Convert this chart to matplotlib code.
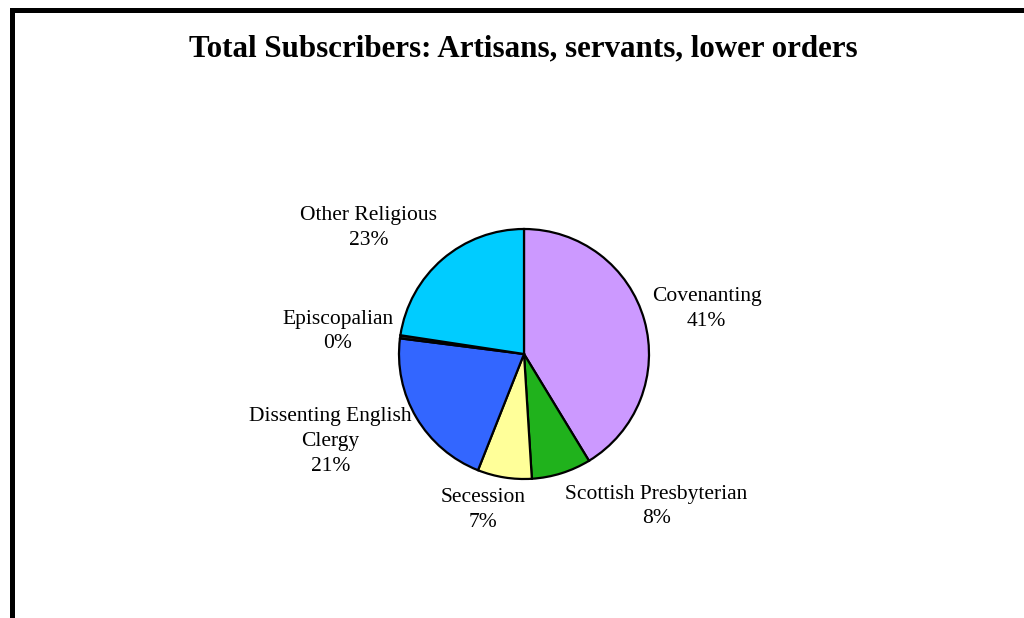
import numpy as np
import matplotlib
matplotlib.use('Agg')
import matplotlib.pyplot as plt
from matplotlib.patches import Rectangle

# share of subscribers per denomination (percent)
groups = ['Covenanting', 'Scottish Presbyterian', 'Secession',
          'Dissenting English\nClergy', 'Episcopalian', 'Other Religious']
shares = [41.3, 7.7, 7.0, 21.0, 0.4, 22.6]
colors = ['#CC99FF', '#20B21C', '#FFFF99', '#3366FF', '#222222', '#00CCFF']

# label centres, in pie radii from the pie centre
label_pos = [(1.46, 0.36), (1.06, -1.22), (-0.33, -1.25),
             (-1.55, -0.70), (-1.49, 0.18), (-1.24, 1.01)]

plt.rcParams['font.family'] = ['Liberation Serif', 'DejaVu Serif']

W, H = 1024, 618
fig = plt.figure(figsize=(W / 100, H / 100), dpi=100)
fig.patch.set_facecolor('white')

# frame along the top and left edges
fig.patches.append(Rectangle((11.5 / W, -0.2), 1.5, 1.2 - 9.5 / H,
                             transform=fig.transFigure, fill=False,
                             edgecolor='black', linewidth=3.6))

fig.text(523 / W, 1 - 49 / H, 'Total Subscribers: Artisans, servants, lower orders',
         ha='center', va='center', fontsize=22.3, fontweight='bold')

cx, cy, r = 524, 354, 125
ax = fig.add_axes([(cx - r) / W, (H - cy - r) / H, 2 * r / W, 2 * r / H])
wedges, _ = ax.pie(shares, colors=colors, startangle=90, counterclock=False,
                   wedgeprops=dict(edgecolor='black', linewidth=1.6))
ax.set_xlim(-1, 1)
ax.set_ylim(-1, 1)
ax.axis('off')

for (lx, ly), name, val in zip(label_pos, groups, shares):
    ax.text(lx, ly, f'{name}\n{val:.0f}%', ha='center', va='center',
            multialignment='center', fontsize=15.5, linespacing=1.4)

fig.savefig('out.png', dpi=100)
